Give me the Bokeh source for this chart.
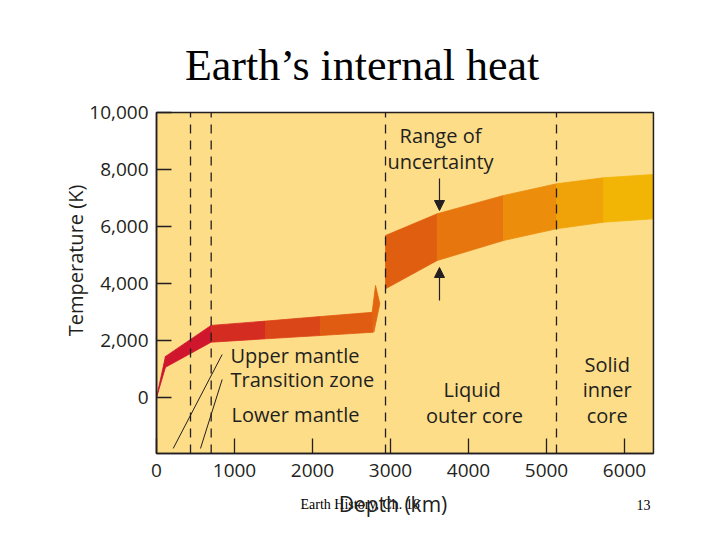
import math
from bokeh.plotting import figure
from bokeh.models import Label, Arrow, NormalHead, FixedTicker, NumeralTickFormatter, Range1d
from bokeh.embed import file_html
from bokeh.resources import INLINE

# ---------------- data ----------------
x_limits = [0, 6371]                         # depth axis extent (km)
y_limits = [-1965, 10000]                    # temperature axis extent (K)
x_ticks = [0, 1000, 2000, 3000, 4000, 5000, 6000]
y_ticks = [0, 2000, 4000, 6000, 8000, 10000]
boundaries = [436, 701, 2936, 5128]          # layer boundaries (km) as drawn

# mantle temperature band (km, K)
mantle_depth = [0, 115, 700, 1400, 2100, 2775]
mantle_top = [0, 1440, 2530, 2680, 2840, 2990]
mantle_bottom = [0, 1060, 1940, 2060, 2175, 2290]
# jagged tip at the core-mantle boundary
tip_depth = [2765, 2808, 2863, 2786]
tip_temp = [2990, 3930, 3290, 2290]

# core temperature band (km, K)
core_depth = [2936, 3599, 4449, 5128, 5731, 6371]
core_top = [5684, 6446, 7088, 7498, 7709, 7825]
core_bottom = [3814, 4807, 5509, 5919, 6151, 6270]

# leader lines from labels to layers
leader_x0 = [842, 842]
leader_y0 = [1509, 632]
leader_x1 = [214, 564]
leader_y1 = [-1789, -1789]

# ---------------- styles ----------------
mantle_colors = ["#cc1030", "#d0162c", "#d52c22", "#da4618", "#df5c12"]
tip_color = "#e2660f"
core_colors = ["#df5e10", "#e7760f", "#ec8e0c", "#efa309", "#f2b405"]
BG = "#fddd88"
INK = "#231f20"
FONT = "Open Sans"

W, H = 712, 532
p = figure(width=W, height=H, title=None,
           x_range=Range1d(-2000, 7128), y_range=Range1d(-4737, 13930),
           output_backend="svg", toolbar_location=None,
           min_border_left=0, min_border_right=0,
           min_border_top=0, min_border_bottom=0)
p.background_fill_color = "white"
p.border_fill_color = "white"
p.outline_line_color = None
p.grid.visible = False

# plot area
p.quad(left=[x_limits[0]], right=[x_limits[1]], bottom=[y_limits[0]], top=[y_limits[1]],
       fill_color=BG, line_color=None)

# bands
def segments(d, lo, hi):
    xs, ys = [], []
    for i in range(len(d) - 1):
        xs.append([d[i], d[i + 1], d[i + 1], d[i]])
        ys.append([lo[i], lo[i + 1], hi[i + 1], hi[i]])
    return xs, ys

mx, my = segments(mantle_depth, mantle_bottom, mantle_top)
p.patches(mx, my, fill_color=mantle_colors, line_color=mantle_colors, line_width=0.8)
p.patch(tip_depth, tip_temp, fill_color=tip_color, line_color=tip_color, line_width=0.8)
cx, cy = segments(core_depth, core_bottom, core_top)
p.patches(cx, cy, fill_color=core_colors, line_color=core_colors, line_width=0.8)

# dashed boundaries
p.segment(x0=boundaries, y0=[y_limits[0]] * len(boundaries),
          x1=boundaries, y1=[y_limits[1]] * len(boundaries),
          line_color=INK, line_dash="9 7", line_width=1.3)

# frame outline
p.quad(left=[x_limits[0]], right=[x_limits[1]], bottom=[y_limits[0]], top=[y_limits[1]],
       fill_color=None, line_color=INK, line_width=1.5)

# leader lines
p.segment(leader_x0, leader_y0, leader_x1, leader_y1, line_color=INK, line_width=1)

# arrows
p.add_layout(Arrow(end=NormalHead(size=10, fill_color=INK, line_color=INK),
                   x_start=3628, y_start=7684, x_end=3628, y_end=6561,
                   line_color=INK, line_width=1.2))
p.add_layout(Arrow(end=NormalHead(size=10, fill_color=INK, line_color=INK),
                   x_start=3628, y_start=3404, x_end=3628, y_end=4561,
                   line_color=INK, line_width=1.2))

# axes, pinned to the plot area
p.xaxis.fixed_location = y_limits[0]
p.yaxis.fixed_location = x_limits[0]
p.xaxis.bounds = tuple(x_limits)
p.yaxis.bounds = tuple(y_limits)
for ax in (p.xaxis, p.yaxis):
    ax.major_tick_in = 15
    ax.major_tick_out = 0
    ax.minor_tick_line_color = None
    ax.axis_line_color = INK
    ax.axis_line_width = 1.5
    ax.major_tick_line_color = INK
    ax.major_tick_line_width = 1.3
    ax.major_label_text_font = FONT
    ax.major_label_text_font_size = "19px"
    ax.major_label_text_color = INK
p.xaxis.ticker = FixedTicker(ticks=x_ticks)
p.yaxis.ticker = FixedTicker(ticks=y_ticks)
p.yaxis.formatter = NumeralTickFormatter(format="0,0")
p.yaxis.major_label_standoff = 8
p.xaxis.major_label_standoff = 11

def lab(x, y, t, size="20px", align="left", font=FONT, color=INK, angle=0.0):
    p.add_layout(Label(x=x, y=y, text=t, text_font=font, text_font_size=size,
                       text_color=color, text_align=align,
                       text_baseline="alphabetic", angle=angle))

# texts inside the plot area
lab(949, 1463, "Upper mantle")
lab(949, 642, "Transition zone")
lab(962, -586, "Lower mantle")
lab(4047, 281, "Liquid", align="center")
lab(4077, -642, "outer core", align="center")
lab(5778, 1169, "Solid", align="center")
lab(5778, 281, "inner", align="center")
lab(5778, -642, "core", align="center")
lab(3641, 9193, "Range of", align="center")
lab(3641, 8281, "uncertainty", align="center")

# texts around the plot area
lab(2635, 11649, "Earth\u2019s internal heat", size="44px", align="center",
    font="Liberation Serif", color="black")
lab(-1039, 4807, "Temperature (K)", size="20px", align="center", angle=math.pi / 2)
lab(1846, -3755, "Earth History, Ch. 16", size="14px", font="Liberation Serif", color="black")
lab(6333, -3755, "13", size="14px", align="right", font="Liberation Serif", color="black")
lab(3032, -3754, "Depth (km)", size="21px", align="center")

open("out.html", "w").write(file_html(p, INLINE))
